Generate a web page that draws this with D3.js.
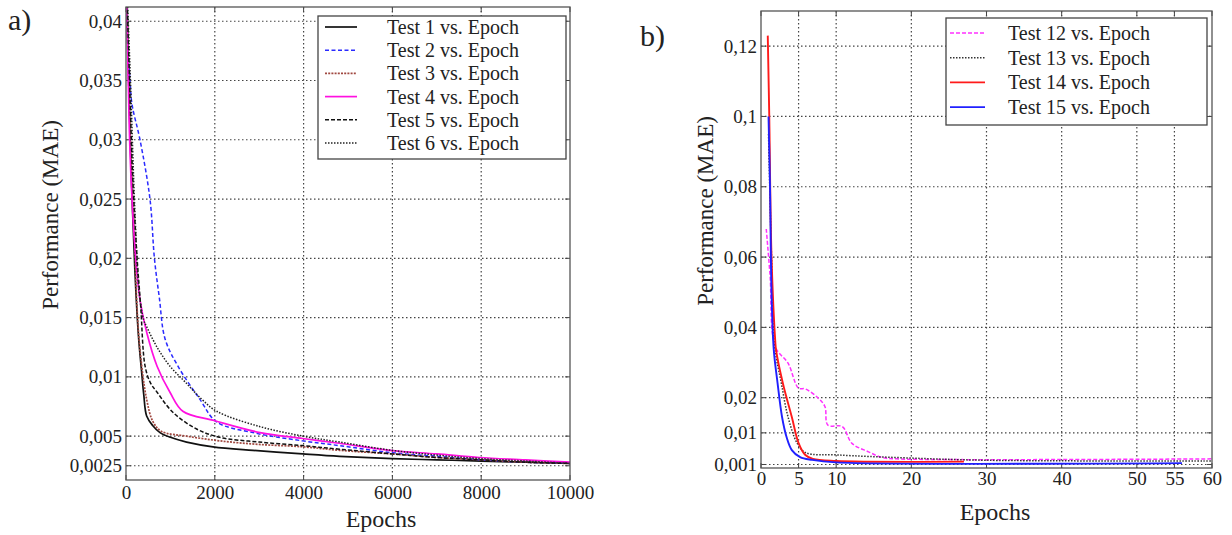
<!DOCTYPE html>
<html><head><meta charset="utf-8">
<script src="https://cdn.jsdelivr.net/npm/d3@7/dist/d3.min.js"></script>
<style>body{margin:0;background:#fff}svg{display:block}text{font-family:'Liberation Serif','Times New Roman',serif;fill:#222}</style>
</head><body><svg id="c" width="1232" height="535"></svg>
<script>
// ---- Panel a data (epoch, MAE) ----
const aXTicks = [0, 2000, 4000, 6000, 8000, 10000];
const aYTicks = [0.0025, 0.005, 0.01, 0.015, 0.02, 0.025, 0.03, 0.035, 0.04];
const test1 = [[0,0.045],[60,0.035],[120,0.027],[200,0.019],[280,0.0135],[350,0.0105],[400,0.0085],[465,0.0067],[600,0.0059],[765,0.0053],[1000,0.0049],[1365,0.0045],[1960,0.0041],[2860,0.0038],[3980,0.0035],[4810,0.0033],[6000,0.0031],[7000,0.0030],[8000,0.0029],[9000,0.0028],[10000,0.0027]];
const test2 = [[0,0.045],[40,0.038],[90,0.035],[135,0.033],[315,0.03],[540,0.025],[640,0.02],[750,0.0167],[880,0.0132],[1170,0.0109],[1665,0.0081],[2040,0.0062],[2860,0.0053],[3980,0.0046],[4810,0.0042],[6000,0.0036],[7000,0.0033],[8000,0.0030],[9000,0.0028],[10000,0.0027]];
const test3 = [[0,0.045],[60,0.035],[120,0.028],[200,0.021],[240,0.0165],[315,0.0123],[465,0.0081],[610,0.0062],[800,0.0054],[1365,0.0050],[2115,0.0046],[3000,0.0043],[3990,0.0041],[4815,0.0038],[6000,0.0035],[7000,0.0032],[8000,0.0030],[9000,0.0028],[10000,0.0027]];
const test4 = [[0,0.045],[50,0.035],[100,0.028],[200,0.021],[315,0.0165],[470,0.0137],[700,0.0109],[990,0.0087],[1280,0.0071],[2000,0.0063],[3020,0.0053],[3980,0.0048],[4800,0.0044],[5940,0.0038],[7000,0.0035],[7960,0.0032],[9000,0.0030],[10000,0.0028]];
const test5 = [[0,0.045],[80,0.035],[150,0.027],[250,0.02],[330,0.016],[430,0.0109],[550,0.0095],[700,0.0087],[1060,0.0070],[1590,0.0056],[2110,0.0049],[3000,0.0045],[3980,0.0042],[4810,0.0039],[6000,0.0035],[7000,0.0032],[8000,0.0030],[9000,0.0028],[10000,0.0027]];
const test6 = [[0,0.045],[100,0.035],[200,0.024],[300,0.017],[400,0.0148],[470,0.0142],[700,0.0125],[990,0.0109],[1350,0.0095],[1710,0.0081],[2040,0.0071],[3020,0.0058],[3990,0.0050],[4810,0.0045],[6000,0.0038],[7000,0.0034],[8000,0.0031],[9000,0.0029],[10000,0.0027]];
const aNames = ["Test 1 vs. Epoch","Test 2 vs. Epoch","Test 3 vs. Epoch","Test 4 vs. Epoch","Test 5 vs. Epoch","Test 6 vs. Epoch"];

// ---- Panel b data ----
const bXTicks = [0, 5, 10, 20, 30, 40, 50, 55, 60];
const bYTicks = [0.001, 0.01, 0.02, 0.04, 0.06, 0.08, 0.1, 0.12];
const test12 = [[0.7,0.068],[1.2,0.055],[1.9,0.0345],[3.6,0.0298],[5.0,0.0227],[5.9,0.0225],[7.6,0.0199],[8.5,0.0175],[8.9,0.0122],[10.8,0.0118],[12.1,0.0070],[14.3,0.0046],[16.1,0.0030],[18,0.0026],[60,0.0026]];
const test13 = [[1,0.095],[1.4,0.06],[1.8,0.035],[2.7,0.0242],[3.6,0.0145],[4.8,0.0071],[5.9,0.0044],[10.3,0.0037],[19,0.0029],[30,0.0022],[60,0.0020]];
const test14 = [[0.9,0.123],[1.1,0.1],[1.4,0.06],[1.9,0.036],[2.0,0.0336],[2.9,0.0242],[4.1,0.0145],[5.0,0.0071],[5.9,0.0037],[6.9,0.0026],[10,0.0020],[27,0.0018]];
const test15 = [[1,0.1],[1.2,0.08],[1.4,0.05],[1.7,0.0336],[2.2,0.0242],[2.8,0.0145],[3.4,0.0088],[4.1,0.0051],[5.2,0.0031],[6.8,0.0023],[10,0.0016],[56,0.0014]];
const bNames = ["Test 12 vs. Epoch","Test 13 vs. Epoch","Test 14 vs. Epoch","Test 15 vs. Epoch"];

const fmt = v => String(v).replace(".", ",");
const svg = d3.select("#c");
const FF = "'Liberation Serif','Times New Roman',serif";

function panel(o){
  const g = svg.append("g");
  const x = d3.scaleLinear().domain(o.xd).range([o.l, o.r]);
  const y = d3.scaleLinear().domain(o.yd).range([o.b, o.t]);
  g.append("g").selectAll("line").data(o.yt).join("line")
    .attr("x1", o.l).attr("x2", o.r).attr("y1", d=>y(d)).attr("y2", d=>y(d))
    .attr("stroke","#444").attr("stroke-width",1.2).attr("stroke-dasharray","1.5,2.5");
  g.append("g").selectAll("line").data(o.xg).join("line")
    .attr("y1", o.t).attr("y2", o.b).attr("x1", d=>x(d)).attr("x2", d=>x(d))
    .attr("stroke","#444").attr("stroke-width",1.2).attr("stroke-dasharray","1.5,2.5");
  const ax = g.append("g").attr("transform",`translate(0,${o.b})`)
    .call(d3.axisBottom(x).tickValues(o.xt).tickSize(0).tickPadding(o.xpad).tickFormat(d=>fmt(d)));
  ax.select(".domain").remove();
  ax.selectAll("text").style("font-family",FF).style("font-size","19px").attr("fill","#222");
  const ay = g.append("g").attr("transform",`translate(${o.l},0)`)
    .call(d3.axisLeft(y).tickValues(o.yt).tickSize(0).tickPadding(4).tickFormat(d=>fmt(d)));
  ay.select(".domain").remove();
  ay.selectAll("text").style("font-family",FF).style("font-size","19px").attr("fill","#222");
  const tk = g.append("g").attr("stroke","#444").attr("stroke-width",1);
  o.yt.forEach(v=>{tk.append("line").attr("x1",o.l).attr("x2",o.l+5).attr("y1",y(v)).attr("y2",y(v));
    tk.append("line").attr("x1",o.r).attr("x2",o.r-5).attr("y1",y(v)).attr("y2",y(v));});
  o.xt.forEach(v=>{tk.append("line").attr("y1",o.b).attr("y2",o.b-5).attr("x1",x(v)).attr("x2",x(v));
    tk.append("line").attr("y1",o.t).attr("y2",o.t+5).attr("x1",x(v)).attr("x2",x(v));});
  const cid = "clip"+o.id;
  svg.append("defs").append("clipPath").attr("id",cid).append("rect")
    .attr("x",o.l).attr("y",o.t).attr("width",o.r-o.l).attr("height",o.b-o.t);
  const line = d3.line().x(d=>x(d[0])).y(d=>y(d[1])).curve(d3.curveCatmullRom.alpha(0.5));
  const lg = g.append("g").attr("clip-path",`url(#${cid})`);
  o.series.forEach(s=>{
    lg.append("path").datum(s.data).attr("d",line).attr("fill","none")
      .attr("stroke",s.c).attr("stroke-width",s.w).attr("stroke-dasharray",s.da||null);
  });
  g.append("rect").attr("x",o.l).attr("y",o.t).attr("width",o.r-o.l).attr("height",o.b-o.t)
    .attr("fill","none").attr("stroke","#555").attr("stroke-width",1.3);
  const L = o.leg;
  g.append("rect").attr("x",L.x).attr("y",L.y).attr("width",L.w).attr("height",L.h)
    .attr("fill","#fff").attr("stroke","#444").attr("stroke-width",1.3);
  o.series.forEach((s,i)=>{
    const yy = L.y0 + i*L.dy;
    g.append("line").attr("x1",L.lx1).attr("x2",L.lx2).attr("y1",yy).attr("y2",yy)
      .attr("stroke",s.c).attr("stroke-width",s.w).attr("stroke-dasharray",s.da||null);
    g.append("text").attr("x",L.tx).attr("y",yy).attr("dy","0.35em").style("font-size","20px").text(s.name);
  });
  g.append("text").attr("x",o.xlab[0]).attr("y",o.xlab[1]).attr("text-anchor","middle").style("font-size","24px").text("Epochs");
  g.append("text").attr("transform",`translate(${o.ylab[0]},${o.ylab[1]}) rotate(-90)`).attr("text-anchor","middle")
    .attr("dy","0.35em").style("font-size","23px").text("Performance (MAE)");
  g.append("text").attr("x",o.tag[0]).attr("y",o.tag[1]).style("font-size","30px").text(o.tagText);
}

panel({id:"a", l:126, r:570, t:7, b:480, xd:[0,10000], yd:[0.0013,0.0412],
  xt:aXTicks, xg:aXTicks.slice(1,-1), yt:aYTicks, xpad:6,
  series:[
    {data:test1,c:"#111",w:1.7,name:aNames[0]},
    {data:test2,c:"#2a2aff",w:1.5,da:"4,2.5",name:aNames[1]},
    {data:test3,c:"#a04840",w:1.7,da:"2,1.2",name:aNames[2]},
    {data:test4,c:"#ff10e0",w:1.7,name:aNames[3]},
    {data:test5,c:"#111",w:1.5,da:"4,2",name:aNames[4]},
    {data:test6,c:"#222",w:1.5,da:"1.5,1.5",name:aNames[5]}],
  leg:{x:318,y:16,w:248,h:143,y0:27,dy:23.2,lx1:325,lx2:357,tx:387},
  xlab:[381,527], ylab:[50,215], tag:[8,30], tagText:"a)"});

panel({id:"b", l:761, r:1212, t:11, b:468, xd:[0,60], yd:[0,0.13],
  xt:bXTicks, xg:bXTicks.slice(1,-1), yt:bYTicks, xpad:4,
  series:[
    {data:test12,c:"#ff30ff",w:1.5,da:"4,2",name:bNames[0]},
    {data:test13,c:"#333",w:1.5,da:"1.5,1.5",name:bNames[1]},
    {data:test14,c:"#ff1a1a",w:1.9,name:bNames[2]},
    {data:test15,c:"#2020ff",w:1.9,name:bNames[3]}],
  leg:{x:946,y:18,w:261,h:107,y0:33,dy:24.7,lx1:950,lx2:985,tx:1008},
  xlab:[995,520], ylab:[705,211], tag:[640,46], tagText:"b)"});
</script></body></html>
